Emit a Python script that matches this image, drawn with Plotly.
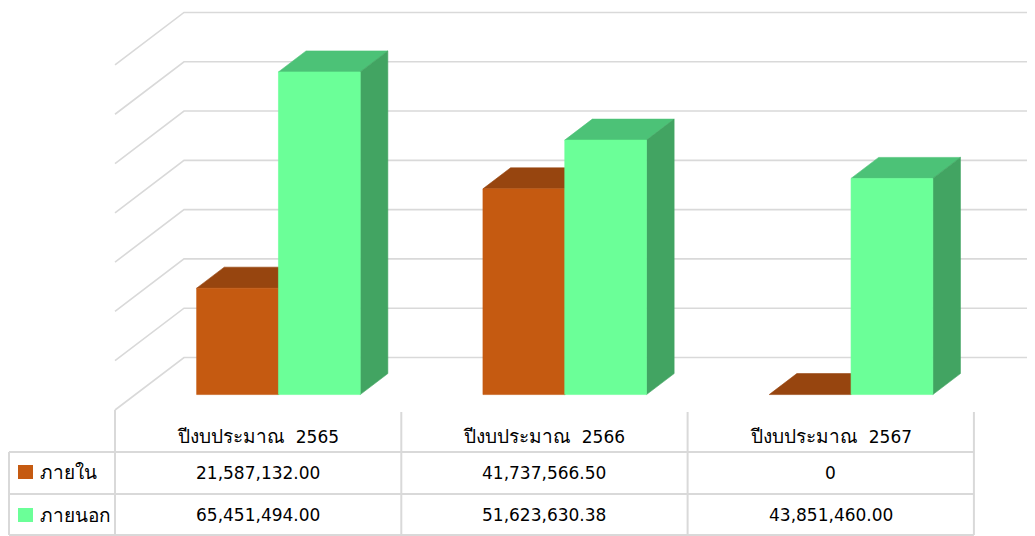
import re
import plotly.graph_objects as go

# ---------------- data ----------------
categories = ["ปีงบประมาณ  2565", "ปีงบประมาณ  2566", "ปีงบประมาณ  2567"]
series_names = ["ภายใน", "ภายนอก"]
inner_values = [21587132.00, 41737566.50, 0]
outer_values = [65451494.00, 51623630.38, 43851460.00]
inner_labels = ["21,587,132.00", "41,737,566.50", "0"]
outer_labels = ["65,451,494.00", "51,623,630.38", "43,851,460.00"]
grid_values = [0, 10e6, 20e6, 30e6, 40e6, 50e6, 60e6, 70e6]

# ---------------- style / geometry ----------------
W, H = 1035, 536
OFF = 8                # default page margin of the html body
X0_PX = 115.0          # left edge of the front plane (page px)
PX_PER_CAT = 286.3     # width of one category column
Y0_PX = 410.0          # value 0 on the front plane (page px)
PX_PER_UNIT = 49.29 / 10e6
DEPTH_DX_PX, DEPTH_DY_PX = 69.0, 52.5
D_FRONT, D_BACK = 0.294, 0.694
BAR_W = 1 / 3.5        # gap width 150 %

FONT = "'DejaVu Sans', Tahoma, sans-serif"
THAI_SIZE = 19
GRID_COLOR = "#d9d9d9"
COLORS = {
    "inner": {"front": "#c55a11", "top": "#97450f", "side": "#8a3f0d"},
    "outer": {"front": "#6bff98", "top": "#4cc277", "side": "#42a462"},
}

ddx = DEPTH_DX_PX / PX_PER_CAT
ddy = DEPTH_DY_PX / PX_PER_UNIT


def px_x(px):
    return (px - X0_PX) / PX_PER_CAT


def px_y(py):
    return (Y0_PX - py) / PX_PER_UNIT


def proj(x, v, d):
    return x + d * ddx, v + d * ddy


def fmt(text):
    text = text.replace("  ", " \u00a0")
    return re.sub(r"([\u0E00-\u0E7F]+)",
                  lambda m: f'<span style="font-size:{THAI_SIZE}px">{m.group(1)}</span>', text)


fig = go.Figure()


def poly(points, color):
    xs = [p[0] for p in points] + [points[0][0]]
    ys = [p[1] for p in points] + [points[0][1]]
    fig.add_trace(go.Scatter(x=xs, y=ys, mode="lines", fill="toself",
                             fillcolor=color, line=dict(color=color, width=0.6),
                             hoverinfo="skip", showlegend=False))


# walls: left-side diagonals and back-wall gridlines
n = len(categories)
for g in grid_values:
    a = proj(0, g, 0)
    b = proj(0, g, 1)
    c = proj(n + 0.5, g, 1)
    fig.add_trace(go.Scatter(x=[a[0], b[0], c[0]], y=[a[1], b[1], c[1]],
                             mode="lines", line=dict(color=GRID_COLOR, width=1.6),
                             hoverinfo="skip", showlegend=False))

# bars
for i in range(n):
    for s, (key, vals) in enumerate([("inner", inner_values), ("outer", outer_values)]):
        v = vals[i]
        xl = i + 0.5 - BAR_W + s * BAR_W
        xr = xl + BAR_W
        col = COLORS[key]
        poly([proj(xl, v, D_FRONT), proj(xr, v, D_FRONT),
              proj(xr, v, D_BACK), proj(xl, v, D_BACK)], col["top"])
        if v > 0:
            poly([proj(xr, 0, D_FRONT), proj(xr, v, D_FRONT),
                  proj(xr, v, D_BACK), proj(xr, 0, D_BACK)], col["side"])
            poly([proj(xl, 0, D_FRONT), proj(xr, 0, D_FRONT),
                  proj(xr, v, D_FRONT), proj(xl, v, D_FRONT)], col["front"])

# ---------------- data table ----------------
shapes = []
TABLE_COLOR = "#d9d9d9"
row_top, row1, row2, row_bot = 410, 452, 494, 535
left_px = 9
for k in range(n + 1):
    shapes.append(dict(type="line", xref="x", yref="y",
                       x0=k, x1=k, y0=px_y(row_top if k == 0 else row_top + 2),
                       y1=px_y(row_bot), line=dict(color=TABLE_COLOR, width=2)))
shapes.append(dict(type="line", xref="x", yref="y", x0=px_x(left_px), x1=px_x(left_px),
                   y0=px_y(row1), y1=px_y(row_bot), line=dict(color=TABLE_COLOR, width=2)))
for ry in (row1, row2, row_bot):
    shapes.append(dict(type="line", xref="x", yref="y", x0=px_x(left_px), x1=n,
                       y0=px_y(ry), y1=px_y(ry), line=dict(color=TABLE_COLOR, width=2)))

annotations = []
TXT = dict(family=FONT, size=17, color="#000000")
for i, cat in enumerate(categories):
    annotations.append(dict(x=i + 0.5, y=px_y(436), xref="x", yref="y",
                            text=fmt(cat), showarrow=False,
                            font=TXT, xanchor="center", yanchor="middle"))
    annotations.append(dict(x=i + 0.5, y=px_y(473), xref="x", yref="y",
                            text=inner_labels[i], showarrow=False,
                            font=TXT, xanchor="center", yanchor="middle"))
    annotations.append(dict(x=i + 0.5, y=px_y(515), xref="x", yref="y",
                            text=outer_labels[i], showarrow=False,
                            font=TXT, xanchor="center", yanchor="middle"))

for name, key, cy in [(series_names[0], "inner", 472), (series_names[1], "outer", 515)]:
    shapes.append(dict(type="rect", xref="x", yref="y",
                       x0=px_x(18), x1=px_x(33), y0=px_y(cy - 7), y1=px_y(cy + 7),
                       fillcolor=COLORS[key]["front"], line=dict(width=0)))
    annotations.append(dict(x=px_x(38), y=px_y(cy), xref="x", yref="y",
                            text=fmt(name), showarrow=False, font=TXT,
                            xanchor="left", yanchor="middle"))

fig.update_layout(
    width=W - OFF, height=H - OFF,
    margin=dict(l=0, r=0, t=0, b=0),
    paper_bgcolor="white", plot_bgcolor="white",
    xaxis=dict(range=[px_x(OFF), px_x(W)], visible=False, fixedrange=True),
    yaxis=dict(range=[px_y(H), px_y(OFF)], visible=False, fixedrange=True),
    shapes=shapes, annotations=annotations, showlegend=False,
)

fig.write_html("out.html")
